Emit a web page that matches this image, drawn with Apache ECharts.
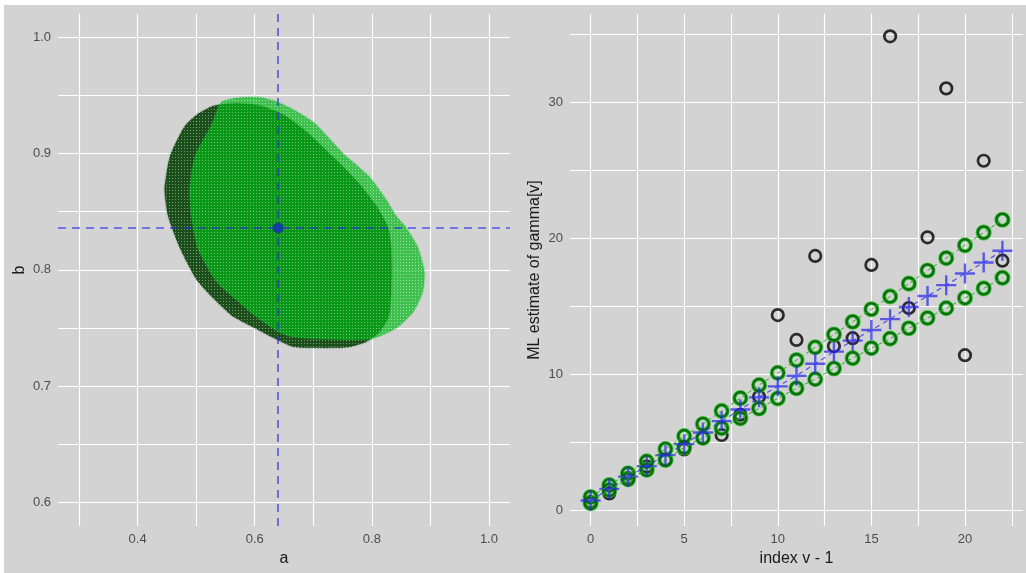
<!DOCTYPE html>
<html><head><meta charset="utf-8">
<script src="https://cdn.jsdelivr.net/npm/echarts@6/dist/echarts.min.js"></script>
<style>html,body{margin:0;padding:0;background:#fff}#c{width:1026px;height:573px}</style>
</head><body><div id="c"></div>
<script>
// ---------- Left panel: joint confidence region of (a, b) ----------
// outline of the bright green layer (a, b)
const greenRegionA = [0.543,0.575,0.610,0.640,0.668,0.702,0.751,0.796,0.825,0.842,0.859,0.879,0.890,0.887,0.871,0.842,0.802,0.760,0.700,0.660,0.637,0.600,0.535,0.503,0.492,0.489,0.498,0.528];
const greenRegionB = [0.944,0.948,0.948,0.944,0.937,0.926,0.900,0.880,0.860,0.846,0.836,0.819,0.798,0.781,0.764,0.750,0.741,0.740,0.741,0.743,0.748,0.761,0.790,0.819,0.846,0.869,0.897,0.926];
// outline of the dark green layer (a, b)
const darkRegionA = [0.503,0.530,0.570,0.610,0.650,0.690,0.740,0.780,0.810,0.828,0.833,0.834,0.833,0.829,0.812,0.790,0.765,0.740,0.700,0.665,0.630,0.600,0.560,0.503,0.472,0.452,0.446,0.455,0.480];
const darkRegionB = [0.934,0.941,0.943,0.941,0.933,0.918,0.894,0.873,0.853,0.836,0.819,0.800,0.780,0.760,0.746,0.738,0.734,0.733,0.733,0.734,0.742,0.750,0.761,0.790,0.819,0.846,0.869,0.897,0.923];
const aHat = 0.64;
const bHat = 0.836;
const leftXLabels = [0.4, 0.6, 0.8, 1.0];
const leftXGrid = [0.3, 0.4, 0.5, 0.6, 0.7, 0.8, 0.9, 1.0];
const leftYLabels = [0.6, 0.7, 0.8, 0.9, 1.0];
const leftYGrid = [0.6, 0.65, 0.7, 0.75, 0.8, 0.85, 0.9, 0.95, 1.0];

// ---------- Right panel: ML estimates of gamma[v] ----------
const indexV = [0,1,2,3,4,5,6,7,8,9,10,11,12,13,14,15,16,17,18,19,20,21,22];
const gammaObserved = [0.6,1.22,2.35,3.18,3.70,4.45,5.30,5.51,7.00,8.33,14.33,12.5,18.68,12.05,12.63,18.02,34.83,14.85,20.05,31.0,11.38,25.68,18.33];
const gammaUpper = [0.95,1.83,2.69,3.57,4.48,5.43,6.32,7.28,8.22,9.18,10.08,11.02,11.96,12.90,13.84,14.76,15.70,16.64,17.61,18.52,19.46,20.40,21.34];
const gammaLower = [0.50,1.46,2.25,2.95,3.67,4.60,5.30,6.02,6.74,7.46,8.20,8.95,9.62,10.40,11.16,11.90,12.60,13.36,14.11,14.84,15.59,16.29,17.07];
const gammaFit = [0.70,1.55,2.45,3.22,4.03,4.84,5.70,6.53,7.39,8.28,9.09,9.87,10.75,11.64,12.45,13.23,14.03,14.92,15.73,16.53,17.39,18.20,19.06];
const rightXLabels = [0, 5, 10, 15, 20];
const rightXGrid = [0, 2.5, 5, 7.5, 10, 12.5, 15, 17.5, 20, 22.5];
const rightYLabels = [0, 10, 20, 30];
const rightYGrid = [0, 5, 10, 15, 20, 25, 30, 35];

const FONT = '"Liberation Sans", Arial, sans-serif';
const TICK = '#4d4d4d';

function meshPattern(line, hole) {
  const c = document.createElement('canvas');
  c.width = 3; c.height = 3;
  const g = c.getContext('2d');
  g.fillStyle = line; g.fillRect(0, 0, 3, 3);
  g.clearRect(1, 1, 1, 1);
  g.fillStyle = hole; g.fillRect(1, 1, 1, 1);
  return c;
}
const darkMesh = meshPattern('rgba(0,60,0,0.88)', 'rgba(0,60,0,0.40)');
const greenMesh = meshPattern('rgba(0,185,20,0.70)', 'rgba(120,220,130,0.45)');

function regionSeries(A, B, mesh, edge) {
  return {
    type: 'custom', xAxisIndex: 0, yAxisIndex: 0, silent: true,
    data: A.map((a, i) => [a, B[i]]),
    renderItem: function (params, api) {
      if (params.dataIndex !== 0) return null;
      const pts = A.map((a, i) => api.coord([a, B[i]]));
      return {
        type: 'polygon',
        shape: { points: pts, smooth: 0.2 },
        style: { fill: { image: mesh, repeat: 'repeat' }, stroke: edge, lineWidth: 2, lineDash: [2, 1] }
      };
    }
  };
}

function valAxis(opt) {
  return Object.assign({
    type: 'value',
    axisLine: { show: false },
    axisTick: { show: false, customValues: opt.grid },
    axisLabel: { customValues: opt.labels, color: TICK, fontSize: 13, fontFamily: FONT, margin: 7, formatter: opt.fmt },
    splitLine: { show: true, lineStyle: { color: '#ffffff', width: 1.1 } },
    nameLocation: 'middle',
    nameTextStyle: { fontSize: 16, color: '#1a1a1a', fontFamily: FONT }
  }, opt.extra);
}

const f1 = v => v.toFixed(1);
const f0 = v => String(Math.round(v));
const crossPath = 'path://M8.8,0 H11.2 V8.8 H20 V11.2 H11.2 V20 H8.8 V11.2 H0 V8.8 H8.8 Z';

const zipR = (ys) => indexV.map((x, i) => [x, ys[i]]);

const option = {
  animation: false,
  backgroundColor: '#d3d3d3',
  graphic: [
    { type: 'rect', shape: { x: 0, y: 0, width: 1026, height: 5 }, style: { fill: '#ffffff' }, z: 100 },
    { type: 'rect', shape: { x: 0, y: 0, width: 4, height: 573 }, style: { fill: '#ffffff' }, z: 100 }
  ],
  grid: [
    { left: 58, top: 14, width: 452, height: 512, show: false },
    { left: 570, top: 14, width: 453, height: 512, show: false }
  ],
  xAxis: [
    valAxis({ grid: leftXGrid, labels: leftXLabels, fmt: f1, extra: { gridIndex: 0, min: 0.264, max: 1.036, name: 'a', nameGap: 24 } }),
    valAxis({ grid: rightXGrid, labels: rightXLabels, fmt: f0, extra: { gridIndex: 1, min: -1.1, max: 23.1, name: 'index v - 1', nameGap: 24 } })
  ],
  yAxis: [
    valAxis({ grid: leftYGrid, labels: leftYLabels, fmt: f1, extra: { gridIndex: 0, min: 0.580, max: 1.0197, name: 'b', nameGap: 30 } }),
    valAxis({ grid: rightYGrid, labels: rightYLabels, fmt: f0, extra: { gridIndex: 1, min: -1.18, max: 36.47, name: 'ML estimate of gamma[v]', nameGap: 27 } })
  ],
  series: [
    regionSeries(darkRegionA, darkRegionB, darkMesh, 'rgba(0,60,0,0.22)'),
    regionSeries(greenRegionA, greenRegionB, greenMesh, 'rgba(40,200,70,0.3)'),
    {
      type: 'scatter', xAxisIndex: 0, yAxisIndex: 0, silent: true,
      data: [[aHat, bHat]], symbolSize: 11,
      itemStyle: { color: '#0b2fa8' },
      markLine: {
        silent: true, symbol: 'none', precision: 5, label: { show: false },
        lineStyle: { color: 'rgba(40,40,235,0.75)', width: 1.6, type: [8, 6] },
        data: [{ xAxis: aHat }, { yAxis: bHat }]
      }
    },
    {
      type: 'scatter', xAxisIndex: 1, yAxisIndex: 1, silent: true,
      data: zipR(gammaObserved), symbol: 'circle', symbolSize: 11.5,
      itemStyle: { color: 'rgba(0,0,0,0)', borderColor: '#000000', borderWidth: 2.7 }
    },
    {
      type: 'line', xAxisIndex: 1, yAxisIndex: 1, silent: true, data: zipR(gammaUpper),
      symbol: 'none', lineStyle: { color: '#2fa82f', width: 1, type: [4, 3] }
    },
    {
      type: 'line', xAxisIndex: 1, yAxisIndex: 1, silent: true, data: zipR(gammaLower),
      symbol: 'none', lineStyle: { color: '#2fa82f', width: 1, type: [4, 3] }
    },
    {
      type: 'scatter', xAxisIndex: 1, yAxisIndex: 1, silent: true,
      data: zipR(gammaUpper).concat(zipR(gammaLower)), symbol: 'circle', symbolSize: 12,
      itemStyle: { color: 'rgba(0,0,0,0)', borderColor: '#1ecf1e', borderWidth: 4.2 }
    },
    {
      type: 'scatter', xAxisIndex: 1, yAxisIndex: 1, silent: true,
      data: zipR(gammaUpper).concat(zipR(gammaLower)), symbol: 'circle', symbolSize: 12,
      itemStyle: { color: 'rgba(0,0,0,0)', borderColor: '#075207', borderWidth: 2.6 }
    },
    {
      type: 'line', xAxisIndex: 1, yAxisIndex: 1, silent: true, data: zipR(gammaFit),
      symbol: 'none', lineStyle: { color: 'rgba(50,50,240,0.8)', width: 1.2, type: [5, 4] }
    },
    {
      type: 'scatter', xAxisIndex: 1, yAxisIndex: 1, silent: true,
      data: zipR(gammaFit), symbol: crossPath, symbolSize: 20,
      itemStyle: { color: 'rgba(40,40,235,0.9)' }
    }
  ]
};

const chart = echarts.init(document.getElementById('c'), null, { renderer: 'canvas' });
chart.setOption(option);
</script>
</body></html>
